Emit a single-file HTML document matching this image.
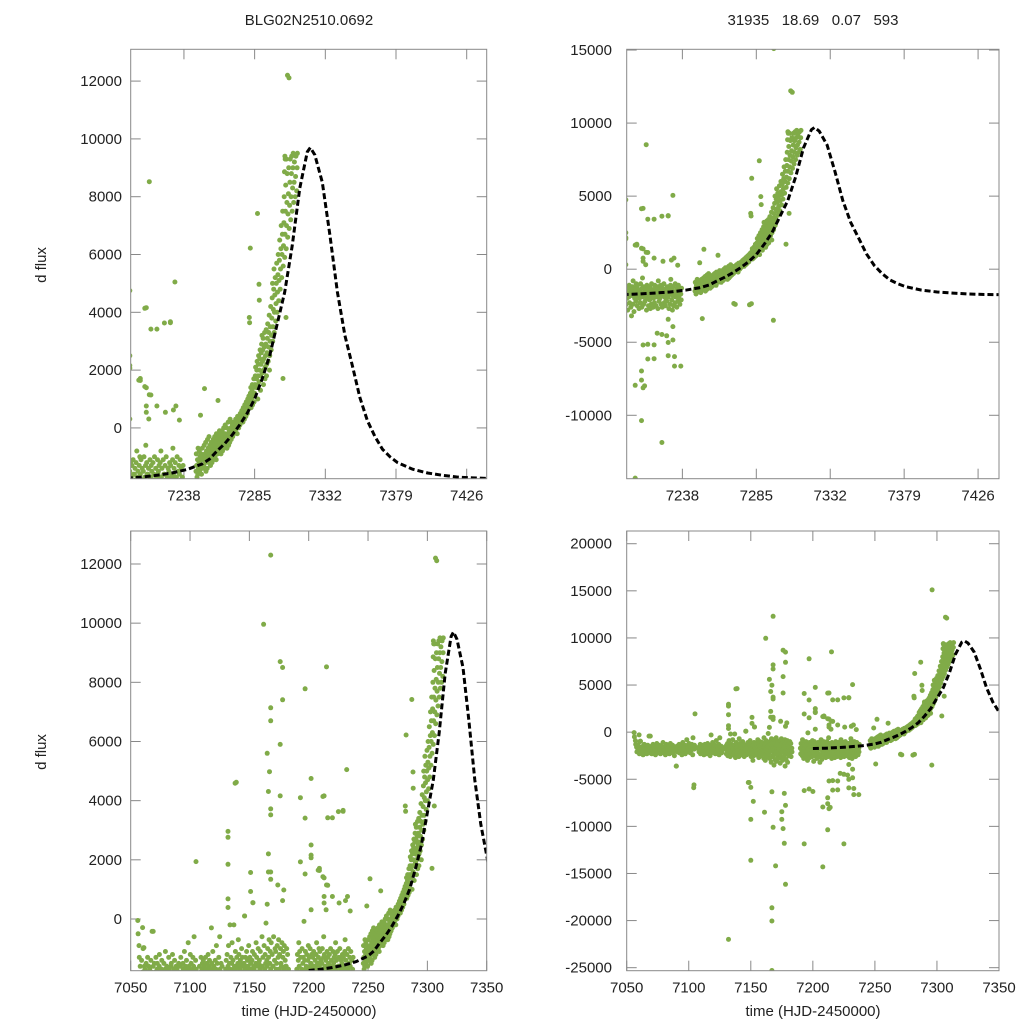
<!DOCTYPE html>
<html><head><meta charset="utf-8">
<style>
html,body{margin:0;padding:0;background:#fff;overflow:hidden;width:1024px;height:1024px;}
svg{display:block;font-family:"Liberation Sans",sans-serif;}
</style></head>
<body>
<svg id="chart" width="1024" height="1024" viewBox="0 0 1024 1024" xmlns="http://www.w3.org/2000/svg">
<rect width="1024" height="1024" fill="#fff"/>
<text x="309" y="25" font-size="15" text-anchor="middle" fill="#222">BLG02N2510.0692</text>
<text x="813" y="25" font-size="15" text-anchor="middle" fill="#222" xml:space="preserve">31935   18.69   0.07   593</text>
<text transform="translate(46,265) rotate(-90)" font-size="15" text-anchor="middle" fill="#222">d flux</text>
<text transform="translate(46,752) rotate(-90)" font-size="15" text-anchor="middle" fill="#222">d flux</text>
<text x="309" y="1016" font-size="15" text-anchor="middle" fill="#222">time (HJD-2450000)</text>
<text x="813" y="1016" font-size="15" text-anchor="middle" fill="#222">time (HJD-2450000)</text>
</svg>
<script>
// ---- model fit curve ----
const modelT=[7200,7210,7220,7230,7240,7250,7255,7260,7265,7270,7275,7280,7285,7290,7295,7300,7305,7310,7315,7320,7322,7325,7330,7335,7340,7345,7350,7355,7360,7365,7370,7375,7380,7390,7400,7410,7420,7430,7440];
const modelF=[-1740,-1700,-1640,-1560,-1440,-1250,-1080,-800,-550,-250,100,500,1000,1700,2500,3600,4700,6300,8300,9550,9700,9450,8500,6700,4700,3200,2150,1050,250,-300,-740,-1000,-1200,-1430,-1560,-1640,-1700,-1730,-1745];
// ---- observations: rows of [time, flux, flux, ...] ----
const seasonA=[[7056,-50,-500],[7057,-900,-1300],[7058,-1600,-2100],[7059,-1900,-1400],[7060,-1800,-2300,-1000],[7061,-970,-2000,-1600],[7062,-1700,-2200],[7063,-1500,-2400,-1900],[7064,-1800,-1300],[7065,-2100,-1600,-1900],[7066,-1700,-2300],[7067,-1400,-2000,-1800],[7068,-420,-1900,-2200],[7069,-1600,-2000],[7070,-1500,-2300,-1800],[7071,-1900,-1300],[7072,-2100,-1700,-1500],[7073,-1800,-2400],[7074,-1600,-1200,-2000],[7075,-1900,-2200],[7076,-1700,-1400,-2100],[7077,-1800,-2300],[7078,-1500,-1900,-2000],[7079,-1700,-1100],[7080,-2200,-1800,-1600],[7081,-1900,-2400],[7082,-1300,-1700,-2000],[7083,-1800,-2100],[7084,-1600,-1500,-2300],[7085,-1900,-1200],[7086,-2000,-1700,-1800],[7087,-1400,-2200],[7088,-1900,-1600,-2500],[7089,-1700,-2000],[7090,-3600,-1800,-1500],[7091,-2100,-1900],[7092,-1600,-1300,-2200],[7093,-1800,-2000],[7094,-1500,-1700,-2400],[7095,-1900,-1100],[7096,-2000,-1600,-1800],[7097,-1400,-2300],[7098,-1700,-1900,-800],[7099,-1600,-2100],[7100,-1800,-1200,-2000],[7101,-1500,-2200],[7102,-1700,-1900,-1300],[7103,-1600,-2400,-600],[7104,-5900,-5600,-1800,-1400],[7105,1940,-1700]];
const seasonB=[[7108,-1600,-2100,-1900],[7109,-1800,-1300,-2300],[7110,-1700,-2000,-1500],[7111,-1900,-1400,-2200],[7112,-1600,-2400,-1800],[7113,-1300,-2000,-1700],[7114,-1900,-1500,-2300],[7115,-1800,-1200,-2100],[7116,-1600,-2000,-1400],[7117,-1700,-2500,-1900],[7118,-300,-1500,-2100],[7119,-1800,-1100,-2000],[7120,-1600,-2200,-1700],[7121,-1900,-1400,-2300],[7122,-1700,-900,-2000],[7123,-1500,-2100,-1800],[7124,-1900,-1300,-2400],[7125,-600,-1700,-2000],[7126,-1800,-1500,-2200],[7127,-1600,-1900]];
const seasonC=[[7130,-1700,-2300,-1400,-1900],[7131,-1800,-1200,-2500,-2000],[7132,-1600,-2100,-900,-1800],[7133,-1900,-1500,-2600,-200],[7134,-1700,-2200,-1300,-1900],[7135,-1500,-2000,-800,-2400],[7136,-1800,-1400,-2300,-1700],[7137,-200,-1900,-1600,-2700],[7138,-1700,-1100,-2100,-1800],[7139,-1600,-2300,-1300,-2000],[7140,-1900,-1500,-2600,-700],[7141,-1800,-1200,-2200,-1600],[7142,-1700,-2400,-1400,-2000],[7143,-1500,-1900,-1000,-2300],[7144,-1800,-1300,-2100,-2600],[7145,-1600,-2200,-1500,-1900],[7146,100,-1700,-2400,-1300],[7147,-1900,-1600,-2000,-1100],[7148,-1700,-2300,-1400,-5340],[7149,-1600,-2100,-900,-1800],[7150,-1800,-2600,-1300,-2000],[7151,-1500,-2200,-1700,-3000],[7152,-1900,-1400,-2500,-1100],[7153,550,-1800,-2100,-1600],[7154,-1700,-1200,-2400,-2000],[7155,-1600,-2300,-1500,-800],[7156,-1900,-1300,-2700,-1800],[7157,-1800,-2200,-1000,-1600],[7158,-1500,-2500,-1400,-2000],[7159,-1700,-1100,-2300,-1900],[7160,-1900,-1600,-2800,-600],[7161,-1600,-2100,-1300,-3000],[7162,-1800,-2400,-900,-2000],[7163,-1700,-1200,-2600,-1500],[7164,-140,-1900,-2300,-1400],[7165,-1600,-2800,-1000,-2000],[7166,-1800,-1300,-3200,-700],[7167,-2000,-1500,-2600,-1100],[7168,-1700,-2400,-800,-3500],[7169,-1900,-1200,-2900,-1600],[7170,-1600,-2200,-600,-3100],[7171,-1800,-1400,-2500,-1000],[7172,-2000,-1100,-2800,-1700],[7173,-1500,-2300,-900,-3300],[7174,-1900,-1300,-2600,-700],[7175,-1700,-2100,-1200,-3000],[7176,-1800,-1000,-2700,-1500],[7177,-1600,-2400,-800,-3600],[7178,-2000,-1300,-2900,-1100],[7179,-1700,-2200,-900,-3200],[7180,-1900,-1400,-2500,-1600],[7181,-1600,-2300,-1000,-2000],[7182,-1800,-1200,-2600],[7183,-1700,-2100]];
const seasonD=[[7190,-1700,-2300,-1200],[7191,-1900,-1400,-2500,-800],[7192,-1600,-2100,-1100,-2800],[7193,-1800,-1300,-2400,-1930],[7194,-1700,-2600,-1000,-2000],[7195,-1500,-2200,-1300,-3000],[7196,-80,-1800,-2400,-1400],[7197,-1700,-1100,-2700,-2000],[7198,-1600,-2300,-1200,-1900],[7199,-1900,-1400,-2600,-900],[7200,-1700,-2200,-1300,-3100],[7201,-1800,-1000,-2500,-1600],[7202,-1500,-2400,-1200,-2000],[7203,-1700,-2800,-1300,-1900],[7204,-1900,-1100,-2300,-1600],[7205,-1600,-2600,-1400,-3200],[7206,-1800,-1200,-2400,-800],[7207,-1700,-2900,-1500,-2000],[7208,-1900,-1300,-2200,-1000],[7209,-1600,-2500,-1100,-1800],[7210,-1800,-1400,-2700,-2000],[7211,-1500,-2300,-1000,-1900],[7212,-1700,-2600,-1300,-600],[7213,-1900,-1200,-2400,-1600],[7214,-1600,-2200,-1400,310],[7215,-1800,-2800,-1100,-2000],[7216,-1700,-1300,-2500,-1500],[7217,-1900,-2100,-1200,-2700],[7218,-1600,-2400,-1000,-1800],[7219,-1800,-1400,-2600,-2000],[7220,-1700,-2300,-1100,-1600],[7221,-1500,-2500,-1300,-1900],[7222,-1800,-1200,-2700,-800],[7223,-1700,-2200,-1400,-2000],[7224,-1900,-1100,-2400,-1600],[7225,-1600,-2600,-1300,540],[7226,-1800,-1000,-2300,-1900],[7227,-1700,-2500,-1400,-2100],[7228,-1500,-2200,-1200,-1800],[7229,-1900,-1300,-2700,-1600],[7230,-1700,-2400,-1100,-700],[7231,-1600,-2100,-1400,-2800],[7232,-1800,-1200,-2500,760],[7233,-1700,-2300,-1000,-1900],[7234,-1900,-1500,-2600,-1300],[7235,-1600,-2200,-1100,-2000],[7236,-1800,-1400,-2400],[7237,-1700,-2100,-1300]];
const seasonE=[[7246,-1500,-900,-1300,-1700],[7247,-1100,-1600,-700,-1400],[7248,-1200,-800,-1500,-1000],[7249,440,-1300,-900,-1600],[7250,-1100,-700,-1400,-3380],[7251,-1000,-1300,-600,1360],[7252,-900,-1200,-500,-1500],[7253,-800,-1100,-1400,-400],[7254,-1000,-700,-1200,-300],[7255,-900,-600,-1100,-1300],[7256,-800,-500,-1000,-1200],[7257,-700,-900,-400,-1100],[7258,-600,-900,-300,-1000],[7259,-800,-500,-1100,-200],[7260,-700,-400,-900,950],[7261,-600,-300,-800,-100],[7262,-500,-700,-200,-900],[7263,-400,-600,-100,-800],[7264,-500,-300,0,-700],[7265,-400,-200,100,-600],[7266,-300,-500,0,-700],[7267,-200,-400,200,-600],[7268,-300,-100,-500,300],[7269,-200,0,-400,200],[7270,-100,100,-300,-2350],[7271,0,-200,200,-2410],[7272,100,-100,300],[7273,0,200,-200,400],[7274,200,400,0],[7275,300,100,500],[7276,200,400,600],[7277,400,200,700],[7278,500,300,800],[7279,600,400,900],[7280,700,500,1000,-2440],[7281,800,1100,3820,3640,-2360,6220],[7282,900,1200,1400,700],[7283,1000,1300,1500,800],[7284,1100,1400,1700,900],[7285,1200,1500,1800,2100],[7286,1400,1700,2000,2300,7420,1000],[7287,1500,1800,2200,2500,4970,4420],[7288,1600,2000,2400,2700,1300],[7289,1800,2200,2600,2900,3200],[7290,1900,2300,2700,3100,1500],[7291,2000,2400,2800,3300,1700],[7292,2100,2500,2900,3400,1800],[7293,2200,2600,3100,3600],[7294,2300,2800,3300,3900,2000],[7295,2500,3000,3500,4200,-3500,15100],[7296,2700,3200,3800,4500,5000],[7297,3000,3500,4100,4800,5500],[7298,3300,4000,4600,5200],[7299,3700,4300,5000,5700],[7300,4000,4700,5300,6000],[7301,4400,5100,5800,6500],[7302,4800,5500,6200,7000],[7303,5200,6000,6700,7500,1710],[7304,5600,6300,7100,8000,8860,9400,9300],[7305,5900,6700,7500,8400,3820,9300],[7306,6200,7000,7800,8800,12200],[7307,6600,7400,8100,9000,12110],[7308,6900,7700,8500,9300],[7309,7200,8000,8800,9400],[7310,7500,8300,9000,9500],[7311,7800,8500,9200],[7312,8000,8700,9400],[7313,8200,9000,9500]];
const outliers=[[7168,12300],[7162,9960],[7176,8700],[7178,8500],[7215,8520],[7197,7780],[7168,7140],[7178,7410],[7168,6700],[7176,5900],[7165,5600],[7167,4980],[7139,4620],[7232,5050],[7202,4750],[7166,4310],[7176,4160],[7193,4100],[7213,4160],[7229,3640],[7168,3720],[7168,3520],[7197,3410],[7220,3420],[7132,2960],[7132,2760],[7202,2500],[7202,2160],[7202,2070],[7166,2200],[7132,1850],[7193,1930],[7209,1710],[7209,1640],[7168,1590],[7166,1590],[7151,1570],[7197,1520],[7213,1390],[7215,1150],[7168,1340],[7174,1150],[7179,980],[7151,930],[7213,760],[7220,760],[7132,680],[7153,550],[7213,540],[7178,620],[7132,390],[7146,100],[7165,500],[7202,310],[7235,270],[7060,-290],[7069,-420],[7061,-970],[7138,4590],[7229,3670],[7212,4140],[7216,3420],[7225,3630],[7208,1650],[7212,1430],[7216,1140],[7231,620],
[7167,-25300],[7132,-22000],[7167,-18640],[7167,-20050],[7170,-14200],[7178,-16150],[7150,-13600],[7208,-14300],[7193,-11860],[7225,-11860],[7177,-11800],[7175,-9260],[7150,-9260],[7161,-8500],[7168,-10100],[7176,-10240],[7208,-7950],[7212,-10360],[7152,-7350],[7150,-5860],[7148,-5340],[7177,-6500],[7167,-6330],[7178,-7780],[7175,-8440],[7212,-6970],[7214,-7990],[7193,-6200],[7197,-6030],[7200,-6300],[7220,-6130],[7225,-4470],[7228,-4560],[7220,-5180],[7233,-6630],[7237,-6630],[7233,-5980],[7090,-3600],[7212,-7590],[7213,-8120],[7216,-6150],[7213,-5190],[7216,-5140],[7222,-4380],[7229,-5020],[7229,-5920],[7232,-4850],[7232,-3930],[7229,-3430]];
// ---- axis ticks ----
const topXTicks=[7238,7285,7332,7379,7426];
const bottomXTicks=[7050,7100,7150,7200,7250,7300,7350];
const tlYTicks=[0,2000,4000,6000,8000,10000,12000];
const trYTicks=[-10000,-5000,0,5000,10000,15000];
const blYTicks=[0,2000,4000,6000,8000,10000,12000];
const brYTicks=[-25000,-20000,-15000,-10000,-5000,0,5000,10000,15000,20000];

const NS='http://www.w3.org/2000/svg';
const svg=document.getElementById('chart');
function mk(tag,attrs,parent){const e=document.createElementNS(NS,tag);for(const k in attrs)e.setAttribute(k,attrs[k]);(parent||svg).appendChild(e);return e;}

const points=[];
[seasonA,seasonB,seasonC,seasonD,seasonE].forEach(rows=>rows.forEach(r=>{for(let i=1;i<r.length;i++)points.push([r[0]+(i-1)*0.22,r[i]]);}));
outliers.forEach(p=>points.push(p));

const panels=[
 {id:'top-left',x0:130.7,x1:486.7,y0:49.3,y1:478.7,xd:[7202.6,7439.3],yd:[-1757,13100],xt:topXTicks,yt:tlYTicks,lblX:122},
 {id:'top-right',x0:626.7,x1:999,y0:49.3,y1:478.7,xd:[7202.6,7439.3],yd:[-14340,15050],xt:topXTicks,yt:trYTicks,lblX:612},
 {id:'bottom-left',x0:130.7,x1:486.7,y0:531,y1:970.7,xd:[7050,7350],yd:[-1748,13115],xt:bottomXTicks,yt:blYTicks,lblX:122},
 {id:'bottom-right',x0:626.7,x1:999,y0:531,y1:970.7,xd:[7050,7350],yd:[-25320,21350],xt:bottomXTicks,yt:brYTicks,lblX:612}
];

panels.forEach(p=>{
  const sx=v=>p.x0+(v-p.xd[0])/(p.xd[1]-p.xd[0])*(p.x1-p.x0);
  const sy=v=>p.y1-(v-p.yd[0])/(p.yd[1]-p.yd[0])*(p.y1-p.y0);
  const g=mk('g',{});
  
  
  const cp=mk('clipPath',{id:'clip-'+p.id},g);
  mk('rect',{x:p.x0,y:p.y0,width:p.x1-p.x0,height:p.y1-p.y0},cp);
  p.yt.forEach(v=>{
    const y=sy(v);
    const t1=mk('line',{x1:p.x0,x2:p.x0+10,y1:y,y2:y,stroke:'#888','stroke-width':1},g);
    
    
    mk('line',{x1:p.x1-10,x2:p.x1,y1:y,y2:y,stroke:'#888','stroke-width':1},g);
    const tx=mk('text',{x:p.lblX,y:y+5,'font-size':15,'text-anchor':'end',fill:'#222'},g);
    
    
    tx.textContent=v;
  });
  p.xt.forEach(v=>{
    const x=sx(v);
    const t1=mk('line',{x1:x,x2:x,y1:p.y1,y2:p.y1-10,stroke:'#888','stroke-width':1},g);
    
    
    mk('line',{x1:x,x2:x,y1:p.y0,y2:p.y0+10,stroke:'#888','stroke-width':1},g);
    const tx=mk('text',{x:x,y:p.y1+22,'font-size':15,'text-anchor':'middle',fill:'#222'},g);
    
    
    tx.textContent=v;
  });
  const pg=mk('g',{'clip-path':'url(#clip-'+p.id+')',fill:'#80ab48'},g);
  
  
  points.forEach(pt=>{
    const cx=sx(pt[0]), cy=sy(pt[1]);
    if(cx<p.x0-3||cx>p.x1+3||cy<p.y0-3||cy>p.y1+3) return;
    const c=mk('circle',{cx:cx.toFixed(1),cy:cy.toFixed(1),r:2.5},pg);
    
    
  });
  let d='';
  modelT.forEach((t,i)=>{d+=(i?'L':'M')+sx(t).toFixed(1)+','+sy(modelF[i]).toFixed(1);});
  const path=mk('path',{d:d,fill:'none',stroke:'#000','stroke-width':3,'stroke-dasharray':'6,3','clip-path':'url(#clip-'+p.id+')'},g);
  
  
  const fr=mk('rect',{x:p.x0,y:p.y0,width:p.x1-p.x0,height:p.y1-p.y0,fill:'none',stroke:'#888','stroke-width':1},g);
  
  
});
</script>
</body></html>
